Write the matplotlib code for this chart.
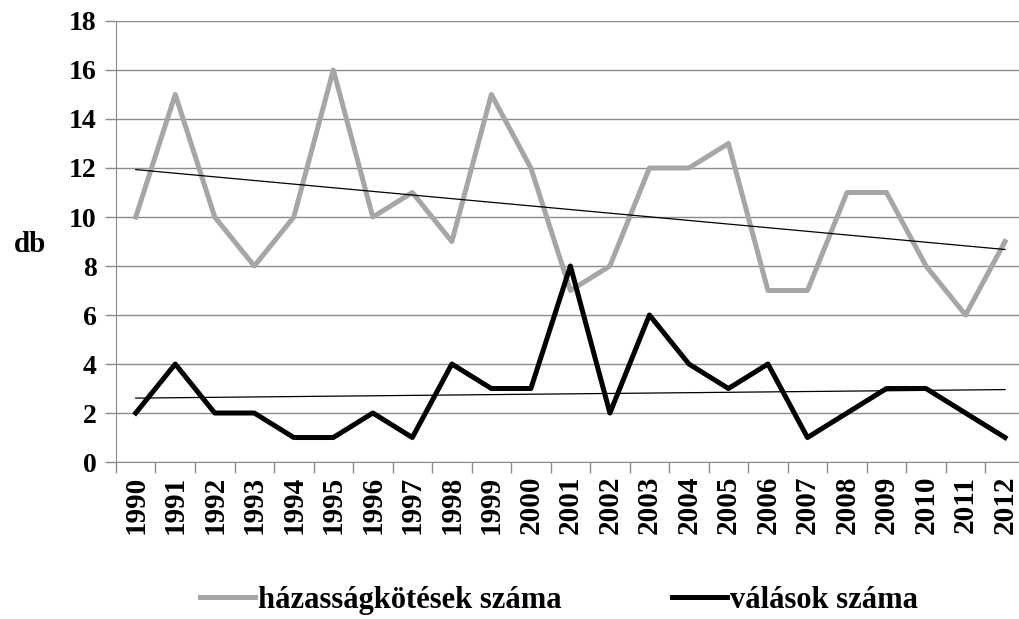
import matplotlib.pyplot as plt
import numpy as np

years = [str(y) for y in range(1990, 2013)]
hazassag = [10, 15, 10, 8, 10, 16, 10, 11, 9, 15, 12, 7, 8, 12, 12, 13, 7, 7, 11, 11, 8, 6, 9]
valas = [2, 4, 2, 2, 1, 1, 2, 1, 4, 3, 3, 8, 2, 6, 4, 3, 4, 1, 2, 3, 3, 2, 1]
y_ticks = [0, 2, 4, 6, 8, 10, 12, 14, 16, 18]

plt.rcParams['font.family'] = ['Liberation Serif', 'DejaVu Serif']
plt.rcParams['font.weight'] = 'bold'

fig = plt.figure(figsize=(10.2, 6.19), dpi=100)
ax = fig.add_axes([0.1137, 0.2536, 0.891, 0.7125])

x = np.arange(len(years))
grey = '#a6a6a6'

l1, = ax.plot(x, hazassag, color=grey, lw=3.6, label='házasságkötések száma')
l2, = ax.plot(x, valas, color='black', lw=3.6, label='válások száma')

# linear trend lines
for series in (hazassag, valas):
    k, b = np.polyfit(x, series, 1)
    ax.plot(x, k * x + b, color='black', lw=0.9)

ax.set_xlim(-0.5, len(years) - 0.5)
ax.set_ylim(0, 18)
ax.set_yticks(y_ticks)
ax.set_yticklabels([str(v) for v in y_ticks], fontsize=20, fontweight='bold')
ax.yaxis.grid(True, color='#8c8c8c', lw=1)
ax.set_axisbelow(True)

ax.set_xticks(x)
ax.set_xticklabels(years, rotation=90, fontsize=21, fontweight='bold')
ax.set_xticks(np.arange(len(years) + 1) - 0.5, minor=True)
ax.tick_params(axis='x', which='major', length=0, pad=10)
ax.tick_params(axis='x', which='minor', length=8, color='#8c8c8c', width=1)
ax.tick_params(axis='y', length=8, color='#8c8c8c', width=1, pad=6)

for s in ('top', 'right'):
    ax.spines[s].set_visible(False)
ax.spines['left'].set_color('#8c8c8c')
ax.spines['bottom'].set_color('#8c8c8c')

fig.text(0.029, 0.605, 'db', fontsize=21, fontweight='bold', va='center', ha='center')

fig.legend(handles=[l1, l2], loc='center', bbox_to_anchor=(0.548, 0.03), ncol=2,
           frameon=False, handlelength=1.8, handletextpad=0.1,
           columnspacing=3.6, prop={'weight': 'bold', 'size': 22})

fig.savefig('out.png', dpi=100)
